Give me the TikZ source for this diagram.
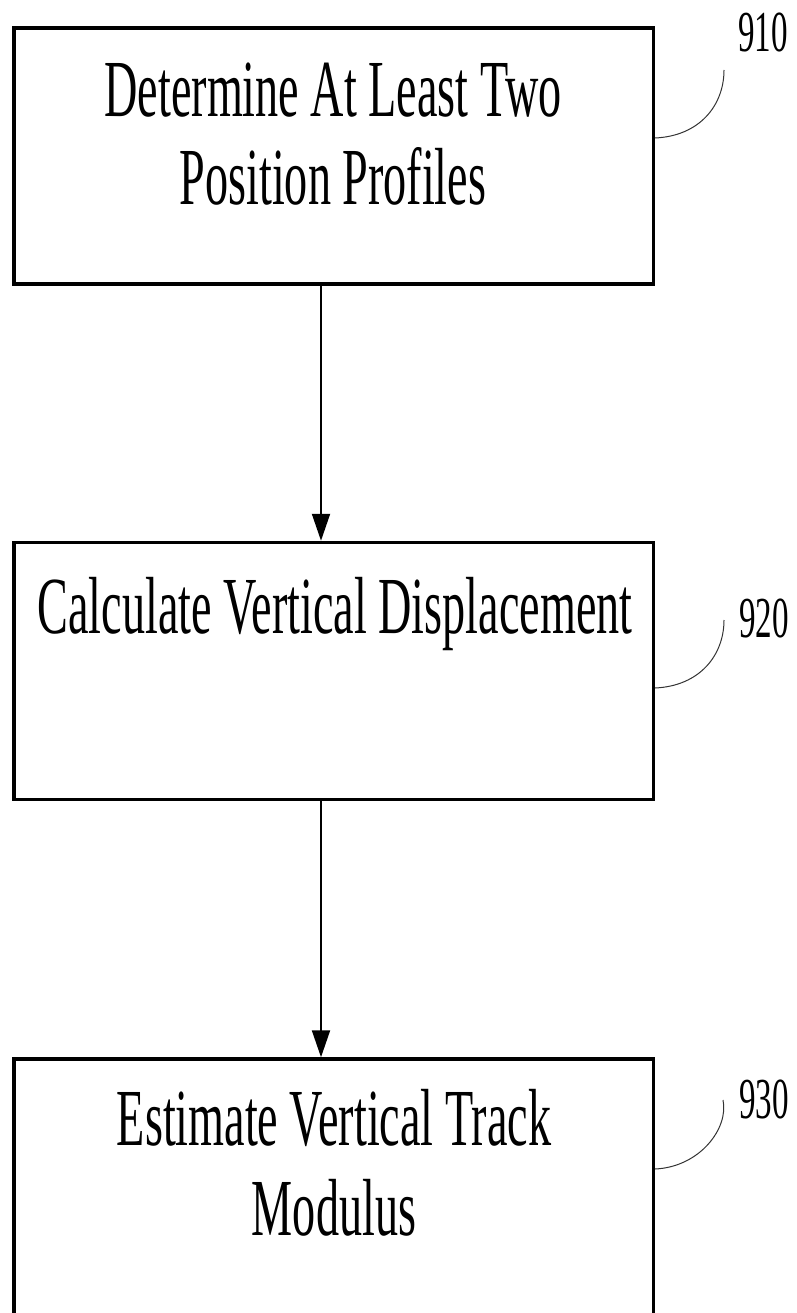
\documentclass[tikz,border=0pt]{standalone}
\usepackage{fontspec}
\setmainfont{Liberation Serif}
\newfontfamily\condfont[FakeStretch=0.57]{Liberation Serif}
\newfontfamily\reffont[FakeStretch=0.57]{Liberation Serif}
\usetikzlibrary{arrows.meta}
\begin{document}
\begin{tikzpicture}[x=1pt,y=-1pt,
  stepbox/.style={draw=black, line width=3.5pt, rectangle, minimum width=639.5pt, inner sep=0pt},
  boxtext/.style={font=\condfont\fontsize{81}{88}\selectfont, inner sep=0pt, anchor=base},
  reftext/.style={font=\reffont\fontsize{58}{60}\selectfont, inner sep=0pt, anchor=base},
  flow/.style={line width=2pt, -{Triangle[width=18pt,length=27pt]}},
  leader/.style={line width=1pt, black!80}]
\useasboundingbox (0,0) rectangle (796,1313);
\clip (0,0) rectangle (796,1313);
\node[stepbox, minimum height=256pt] (b1) at (333.7,156) {};
\node[stepbox, minimum height=257pt] (b2) at (333.7,671) {};
\node[stepbox, minimum height=260pt] (b3) at (333.7,1189) {};
\node[boxtext] (t1a) at (333,117) {Determine At Least Two};
\node[boxtext] (t1b) at (333,205) {Position Profiles};
\node[boxtext] (t2) at (335,633) {Calculate Vertical Displacement};
\node[boxtext] (t3a) at (334,1145) {Estimate Vertical Track};
\node[boxtext] (t3b) at (334,1235) {Modulus};
\node[reftext] (r1) at (763,52) {910};
\node[reftext] (r2) at (764,637) {920};
\node[reftext] (r3) at (764,1118) {930};
\coordinate (ax) at (321,0);
\draw[flow] (b1.south -| ax) -- (b2.north -| ax);
\draw[flow] (b2.south -| ax) -- (b3.north -| ax);
\coordinate (s1) at (655,138);
\coordinate (e1) at (724,70);
\coordinate (s2) at (655,688);
\coordinate (e2) at (724,620);
\coordinate (s3) at (655,1169);
\coordinate (e3) at (723,1100);
\draw[leader] (s1) .. controls +(45,-2) and +(0,35) .. (e1);
\draw[leader] (s2) .. controls +(45,-2) and +(0,35) .. (e2);
\draw[leader] (s3) .. controls +(45,-2) and +(6,28) .. (e3);
\end{tikzpicture}
\end{document}
